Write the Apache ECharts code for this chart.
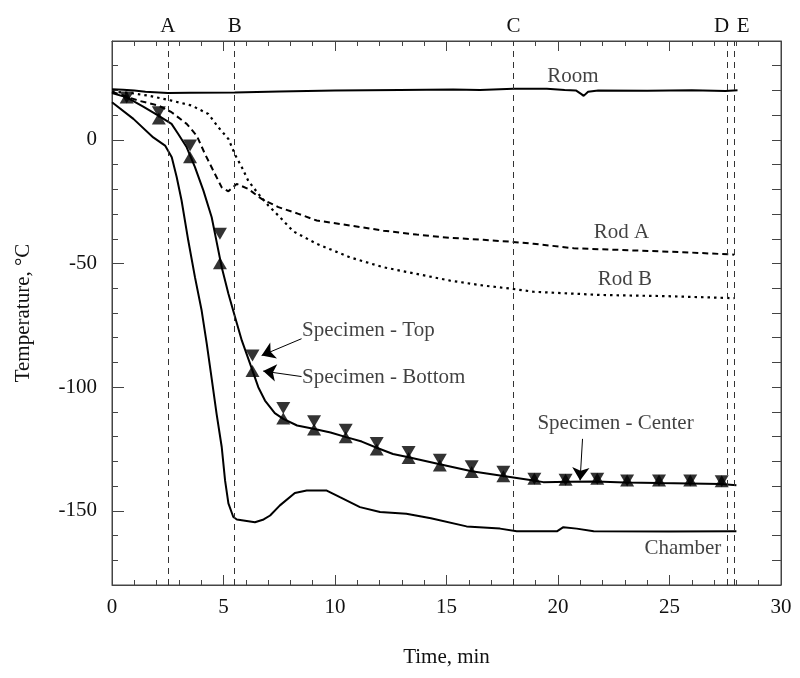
<!DOCTYPE html>
<html><head><meta charset="utf-8">
<script src="https://cdn.jsdelivr.net/npm/echarts@6/dist/echarts.min.js"></script>
<style>html,body{margin:0;padding:0;background:#fff}#c{width:800px;height:678px}</style>
</head><body><div id="c"></div>
<script>
// ---- data (time in min, temperature in °C) ----
const roomData = [[0,20.5],[0.5,20.3],[1,20],[1.5,19.5],[2.5,19.0],[3.5,19.1],[5.5,19.2],[7.5,19.6],[10,20],[12.9,20.2],[15.3,20.4],[16.5,20.2],[18,20.7],[19.5,20.7],[20.3,20.2],[20.8,20],[21.05,18.5],[21.15,17.8],[21.35,19.5],[21.8,20],[24,19.9],[26,20.1],[27.5,19.8],[28.05,20.1]];
const centerData = [[0,19],[0.66,17.2],[1.4,13.5],[2.08,9.8],[2.67,6.5],[2.97,2.4],[3.35,-3],[3.72,-11],[4.1,-20.5],[4.47,-31.3],[4.62,-38],[4.92,-51.5],[5.22,-62.2],[5.52,-71.7],[5.82,-81.1],[6.19,-90.5],[6.56,-100],[6.86,-105.4],[7.3,-110.5],[7.68,-112.8],[8.3,-115.5],[9.03,-116.8],[9.8,-118.3],[10.5,-120.2],[11.2,-122],[11.87,-124.5],[12.6,-127],[13.3,-128.3],[14.7,-131.2],[16.13,-134],[17.55,-135.9],[18.9,-137.7],[19.34,-138.4],[20.5,-138.2],[21.7,-138.1],[23,-138.5],[24.5,-138.8],[25.9,-139],[27.3,-139.2],[28,-139.7]];
const chamberData = [[0,15.2],[0.96,8.5],[1.85,1],[2.38,-2.3],[2.68,-7],[2.9,-15],[3.12,-24.5],[3.42,-40.7],[3.72,-55.5],[4.02,-69],[4.25,-82.5],[4.47,-96.5],[4.69,-110.8],[4.92,-124.2],[5.07,-137.7],[5.22,-147],[5.44,-152.5],[5.6,-153.5],[6.41,-154.6],[6.8,-153.5],[7.09,-151.9],[7.53,-147.8],[8.2,-142.8],[8.73,-141.8],[9.63,-141.8],[10.22,-144.5],[11.12,-148.5],[12.02,-150.5],[13.2,-151.2],[14.3,-153],[15.9,-156.3],[17.4,-157.2],[18.15,-158.3],[19.95,-158.3],[20.24,-156.6],[20.84,-157.2],[21.6,-158.3],[25,-158.4],[28,-158.3]];
const rodAData = [[0,19.5],[0.5,18],[1.18,15.9],[2.08,13.9],[2.67,11.2],[3.35,6.5],[3.8,1.7],[4.17,-5.7],[4.54,-12.4],[4.92,-19.2],[5.22,-20.8],[5.59,-17.8],[6.11,-19.8],[6.7,-23.8],[7.46,-27.2],[8.36,-29.9],[9.18,-32.6],[10.67,-34.6],[12.17,-36.7],[13.66,-38.3],[15.16,-39.6],[16.65,-40.4],[17.92,-41.2],[18.9,-42],[20.7,-43.8],[23.4,-44.7],[25.6,-45.4],[27.9,-46.4]];
const rodBData = [[0,19.5],[0.8,19],[1.63,17.9],[2.67,15.9],[3.57,13.9],[4.32,10.5],[4.77,5.1],[5.22,0.4],[5.52,-6],[5.82,-11],[6.11,-16.5],[6.56,-21.8],[7.01,-26.5],[7.61,-32],[8.13,-37],[9.18,-42],[10.67,-47.5],[12.17,-51.5],[13.66,-54.2],[15.16,-56.9],[16.65,-58.9],[17.92,-60.2],[18.9,-61.4],[21.9,-62.7],[24.9,-63.2],[27.9,-64]];
const markerTimes = [0.66,2.1,3.5,4.84,6.3,7.68,9.06,10.48,11.87,13.3,14.7,16.13,17.55,18.94,20.34,21.76,23.1,24.53,25.93,27.34];
const topTemps    = [17.2,11.2,-2.3,-38,-87.2,-108.4,-113.8,-117.2,-122.6,-126.2,-129.3,-132,-134.2,-137,-137.4,-137,-137.7,-137.7,-137.7,-138];
const bottomTemps = [17.2,8.7,-7,-49.9,-93.5,-112.7,-117.1,-120.2,-125.2,-128.6,-131.7,-134.3,-136,-137,-137.4,-137,-137.7,-137.7,-137.7,-138];
const eventTimes = [2.5,5.5,18,27.6,27.9];
const eventNames = ['A','B','C','D','E'];
const yLabelValues = [-150,-100,-50,0];
// annotation text anchors [time, temp, text]
const annotations = [[20.67,25.6,'Room'],[22.85,-37.3,'Rod A'],[23.0,-56.6,'Rod B'],[22.58,-114.8,'Specimen - Center'],[25.6,-165.3,'Chamber']];
const leftAnnotations = [[8.5,-77.1,'Specimen - Top'],[8.5,-96,'Specimen - Bottom']];
const arrows = [[[8.5,-80.4],[6.71,-87.2]],[[8.5,-95.7],[6.78,-93.5]],[[21.1,-120.9],[20.99,-137.7]]];

// ---- chart ----
const chart = echarts.init(document.getElementById('c'), null, {renderer:'canvas'});
const FONT = '"Liberation Serif", "Times New Roman", serif';
const TXT = {fontFamily: FONT, fontSize: 21, color: '#111'};
const AX = '#444';
const xCommon = {type:'value',min:0,max:30,interval:5,
  axisLine:{show:true,onZero:false,lineStyle:{color:AX,width:1}},
  axisTick:{inside:true,length:10,lineStyle:{color:AX}},
  minorTick:{show:true,splitNumber:5,length:5,lineStyle:{color:AX}},
  splitLine:{show:false},minorSplitLine:{show:false}};
const lineStyleBase = {color:'#000',width:2};

const option = {
  animation:false,
  backgroundColor:'#fff',
  grid:{left:112,right:19,top:41,bottom:93,show:true,borderColor:AX,borderWidth:1},
  xAxis:[
    Object.assign({},xCommon,{position:'bottom',axisLabel:Object.assign({},TXT,{margin:12}),
      name:'Time, min',nameLocation:'middle',nameGap:62,nameTextStyle:TXT}),
    Object.assign({},xCommon,{position:'top',axisLabel:{show:false}})
  ],
  yAxis:[
    {type:'value',min:-180,max:40,interval:10,position:'left',
      axisLine:{show:true,onZero:false,lineStyle:{color:AX}},
      axisTick:{inside:true,length:6,lineStyle:{color:AX}},
      axisLabel:Object.assign({},TXT,{margin:15,formatter:v=> yLabelValues.indexOf(v)>=0 ? String(v) : ''}),
      splitLine:{show:false},
      name:'Temperature, °C',nameLocation:'middle',nameGap:78,nameTextStyle:TXT},
    {type:'value',min:-180,max:40,position:'left',
      axisLine:{show:false},
      axisTick:{show:true,inside:true,length:12,customValues:yLabelValues,lineStyle:{color:AX}},
      axisLabel:{show:false},splitLine:{show:false}},
    {type:'value',min:-180,max:40,interval:10,position:'right',
      axisLine:{show:true,onZero:false,lineStyle:{color:AX}},
      axisTick:{inside:true,length:9,lineStyle:{color:AX}},
      axisLabel:{show:false},splitLine:{show:false}}
  ],
  series:[
    {name:'Room',type:'line',data:roomData,showSymbol:false,symbol:'none',lineStyle:lineStyleBase},
    {name:'Rod A',type:'line',data:rodAData,showSymbol:false,symbol:'none',lineStyle:{color:'#000',width:2,type:[6,4]}},
    {name:'Rod B',type:'line',data:rodBData,showSymbol:false,symbol:'none',lineStyle:{color:'#000',width:2.2,type:[2.5,4]}},
    {name:'Chamber',type:'line',data:chamberData,showSymbol:false,symbol:'none',lineStyle:lineStyleBase,
      markLine:{silent:true,symbol:'none',animation:false,
        lineStyle:{type:[6,5],color:'#333',width:1},
        label:Object.assign({},TXT,{show:true,position:'end',distance:4,formatter:'{b}'}),
        data:eventTimes.map((t,i)=>({xAxis:t,name:eventNames[i],
          label:{offset: eventNames[i]==='D'?[-6,0]:(eventNames[i]==='E'?[9,0]:[0,0])}}))}},
    {name:'Specimen - Center',type:'line',data:centerData,showSymbol:false,symbol:'none',lineStyle:lineStyleBase,
      markLine:{silent:true,animation:false,symbol:['none','arrow'],symbolSize:13,
        lineStyle:{type:'solid',color:'#000',width:1},label:{show:false},
        data:arrows.map(a=>[{coord:a[0]},{coord:a[1]}])}},
    {name:'Specimen - Top',type:'scatter',symbol:'triangle',symbolRotate:180,symbolSize:[14,12],
      itemStyle:{color:'#000'},data:markerTimes.map((t,i)=>[t,topTemps[i]])},
    {name:'Specimen - Bottom',type:'scatter',symbol:'triangle',symbolSize:[14,12],
      itemStyle:{color:'#000'},data:markerTimes.map((t,i)=>[t,bottomTemps[i]])},
    {name:'labels',type:'scatter',symbolSize:1,itemStyle:{color:'rgba(0,0,0,0)'},silent:true,
      label:Object.assign({},TXT,{show:true,position:'inside',formatter:p=>p.data.value[2]}),
      data:annotations.map(a=>({value:a})).concat(leftAnnotations.map(a=>({value:a,
        label:{position:'right',distance:0}})))}
  ]
};
chart.setOption(option);
</script></body></html>
